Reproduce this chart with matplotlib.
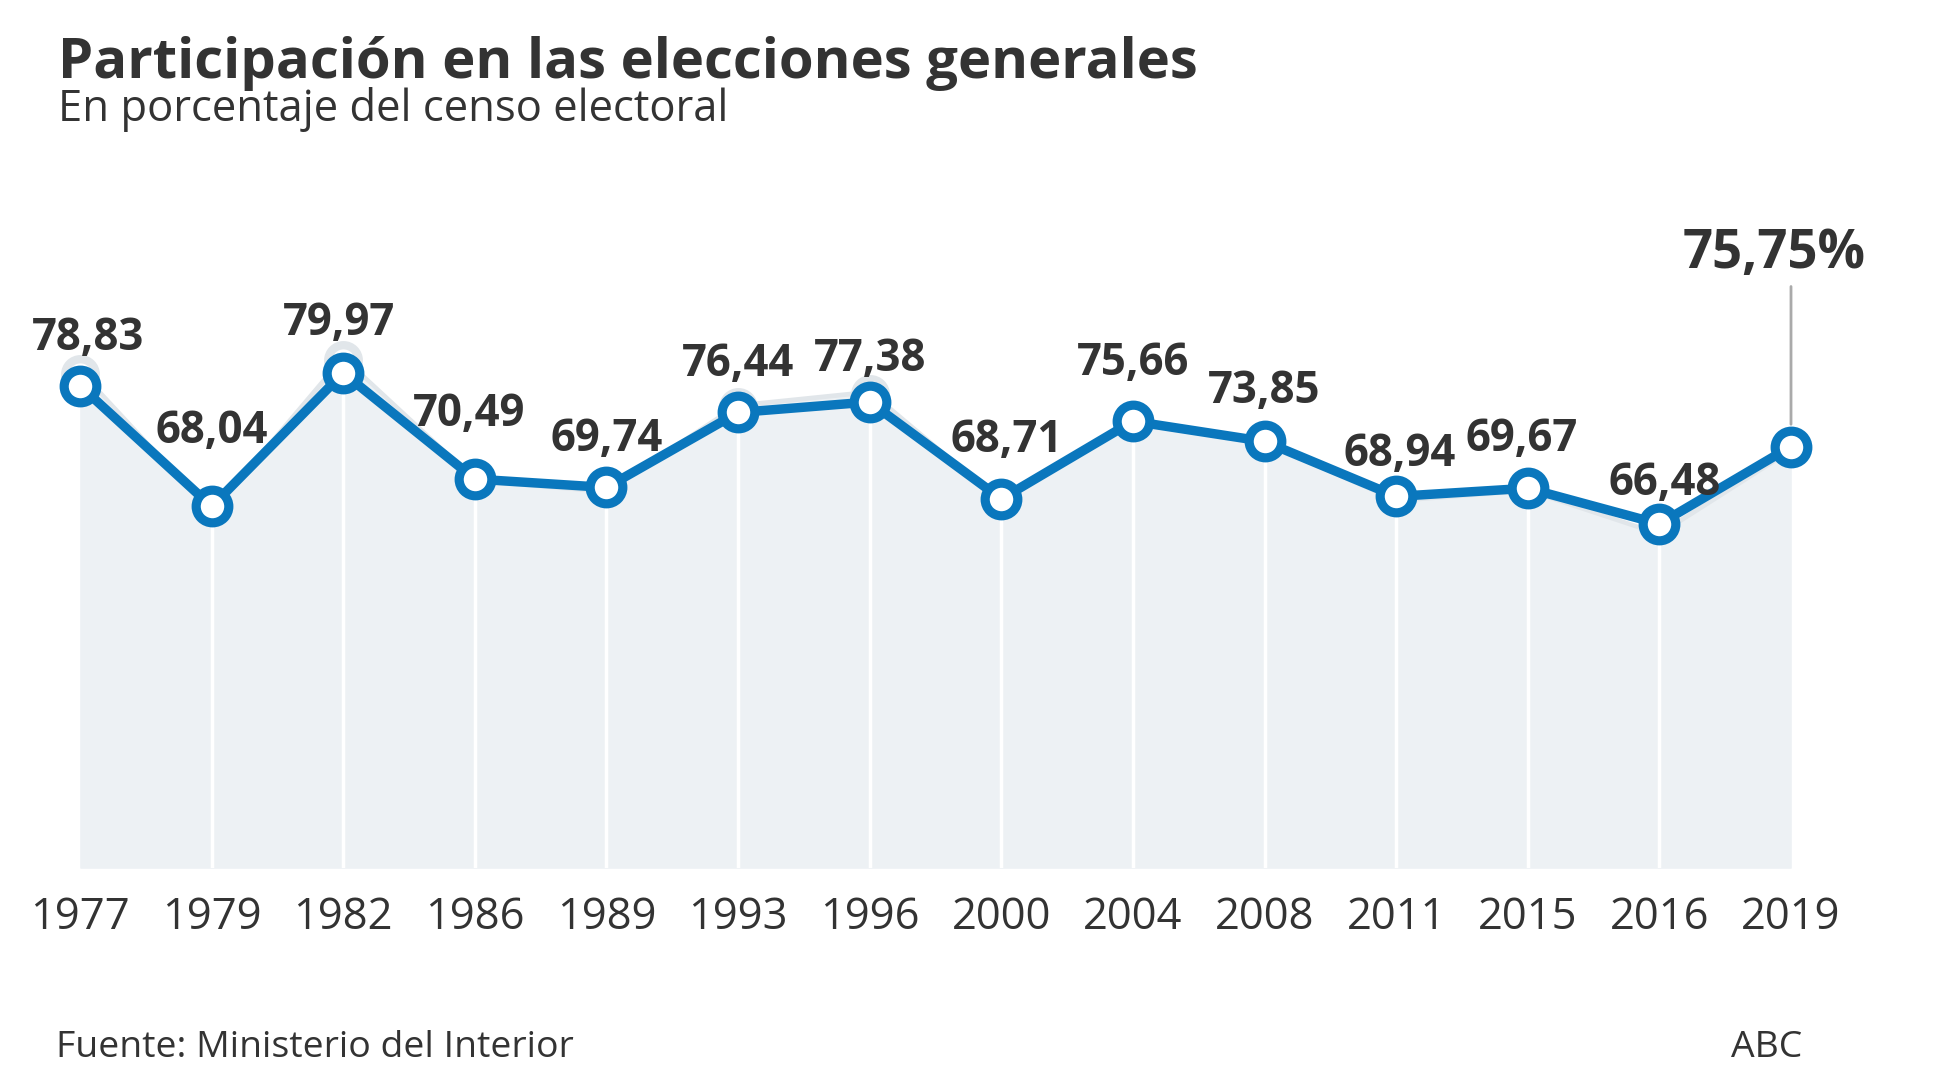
import matplotlib.pyplot as plt

years = ['1977', '1979', '1982', '1986', '1989', '1993', '1996',
         '2000', '2004', '2008', '2011', '2015', '2016', '2019']
turnout = [78.83, 68.04, 79.97, 70.49, 69.74, 76.44, 77.38,
           68.71, 75.66, 73.85, 68.94, 69.67, 66.48, 75.75]
# height at which each point is drawn in the picture (2019 sits lower than its label)
drawn = [78.83, 68.04, 79.97, 70.49, 69.74, 76.44, 77.38,
         68.71, 75.66, 73.85, 68.94, 69.67, 66.48, 73.4]
# faint "ghost" line drawn behind the main series
ghost = [79.9, 67.2, 81.1, 70.2, 69.2, 76.9, 78.1,
         68.2, 75.7, 73.6, 68.4, 69.3, 65.4, 72.9]

# label placement: offset of the baseline above the point, in px, and x shift
lab_dy = [36, 63, 38, 53, 36, 36, 31, 47, 46, 38, 30, 37, 29]
lab_dx = [8, 0, -4, -6, 0, 0, 0, 5, 0, 0, 3, -6, 5]

W, H = 1937, 1090
BLUE = '#0a77bd'
DARK = '#333333'
FILL = '#edf1f4'
GHOST = '#e1e6ea'
FONT = 'Open Sans'

fig = plt.figure(figsize=(W / 100, H / 100), dpi=100)

x0, x1 = 80, 1791          # px of first / last point
ybot, ytop = 868, 200      # px from top
ax = fig.add_axes([x0 / W, (H - ybot) / H, (x1 - x0) / W, (ybot - ytop) / H])
ymin = 35.73
ymax = 79.97 + (373 - ytop) / 11.19
ax.set_xlim(0, len(years) - 1)
ax.set_ylim(ymin, ymax)
ax.axis('off')

xs = list(range(len(years)))
ax.fill_between(xs, ghost, ymin, color=FILL, lw=0, zorder=1)
ax.plot(xs[:-1], ghost[:-1], color=GHOST, lw=6, zorder=2,
        marker='o', ms=22, mfc='white', mec=GHOST, mew=6, clip_on=False)
ax.plot(xs[-2:], ghost[-2:], color=GHOST, lw=6, zorder=2)
ax.fill_between(xs, ghost, ymin, color=FILL, lw=0, zorder=2.5)
for i in xs[1:-1]:
    ax.vlines(i, ymin, ghost[i], color='white', lw=2.5, zorder=3)

ax.plot(xs, drawn, color=BLUE, lw=6.8, zorder=4, solid_joinstyle='round',
        marker='o', ms=23.5, mfc='white', mec=BLUE, mew=6.6, clip_on=False)

px = 72 / 100  # points per pixel
for i in xs[:-1]:
    lab = f'{turnout[i]:.2f}'.replace('.', ',')
    ax.annotate(lab, (i, drawn[i]), xytext=(lab_dx[i] * px, lab_dy[i] * px),
                textcoords='offset points', ha='center', va='baseline',
                fontsize=31.5, fontweight='bold', color=DARK, family=FONT,
                zorder=6)

# highlighted last value with leader line
last = len(years) - 1
ax.annotate('', (last, drawn[last]), xytext=(0, 160 * px),
            textcoords='offset points',
            arrowprops=dict(arrowstyle='-', color='#aaaaaa', lw=2,
                            shrinkA=0, shrinkB=16), zorder=3)
ax.annotate(f'{turnout[last]:.2f}%'.replace('.', ','), (last, drawn[last]),
            xytext=(-17 * px, 179 * px), textcoords='offset points',
            ha='center', va='baseline', fontsize=38, fontweight='bold',
            color=DARK, family=FONT)

for i, y in enumerate(years):
    ax.text(i, -(929 - ybot) / (ybot - ytop), y,
            transform=ax.get_xaxis_transform(), ha='center',
            va='baseline', fontsize=31.3, color=DARK, family=FONT)

fig.text(58 / W, 1 - 78 / H, 'Participación en las elecciones generales',
         fontsize=40.5, fontweight='bold', color=DARK, family=FONT,
         va='baseline', ha='left')
fig.text(58 / W, 1 - 121 / H, 'En porcentaje del censo electoral',
         fontsize=31.4, color=DARK, family=FONT, va='baseline', ha='left')
fig.text(56 / W, 1 - 1057 / H, 'Fuente: Ministerio del Interior',
         fontsize=26.9, color=DARK, family=FONT, va='baseline', ha='left')
fig.text(1802 / W, 1 - 1057 / H, 'ABC',
         fontsize=26.9, color=DARK, family=FONT, va='baseline', ha='right')

fig.savefig('out.png', dpi=100, facecolor='white')
